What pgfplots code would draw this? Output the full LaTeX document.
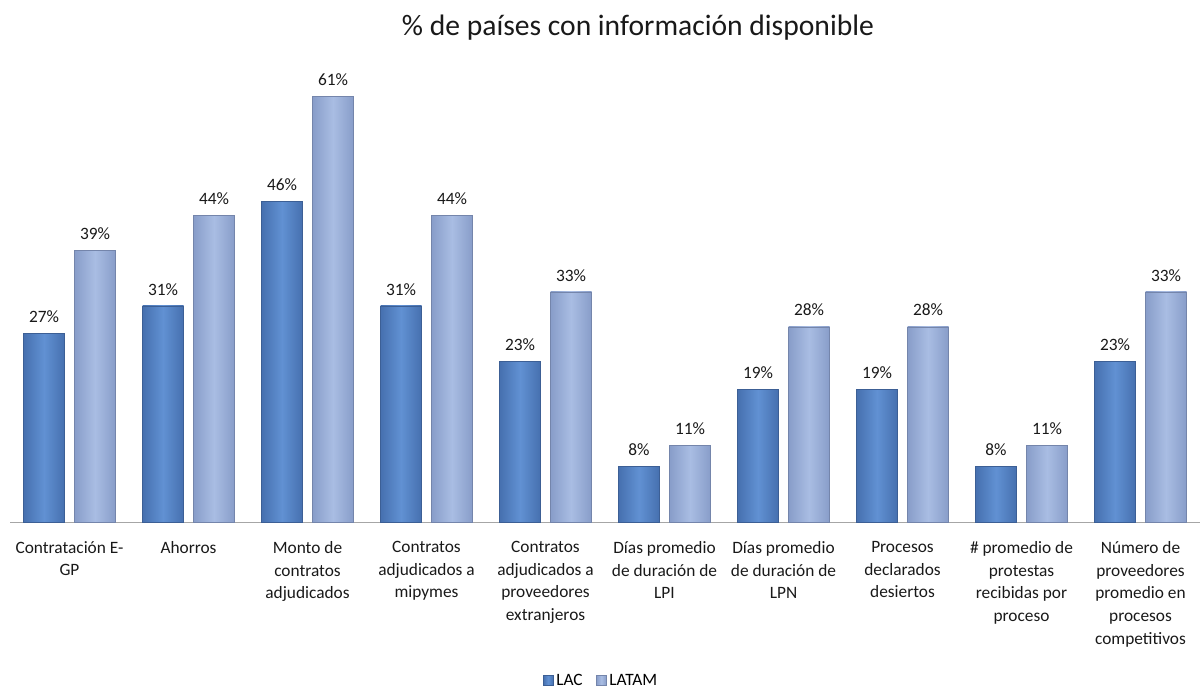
\documentclass[border=0pt]{standalone}
\usepackage{pgfplots}
\pgfplotsset{compat=1.18}
\usepackage{fontspec}
\setmainfont{Carlito}
\definecolor{lacL}{HTML}{6191D3}
\definecolor{lacD}{HTML}{4670AF}
\definecolor{latL}{HTML}{A9BDE3}
\definecolor{latD}{HTML}{889DC9}
\pgfplotsset{
  lac/.style={draw=lacD!85!black, line width=0.5pt, left color=lacD, right color=lacD, middle color=lacL, bar shift=-19.125pt},
  lat/.style={draw=latD!85!black, line width=0.5pt, left color=latD, right color=latD, middle color=latL, bar shift=19.125pt},
}
\begin{document}
\begin{tikzpicture}
\path[use as bounding box] (-7.5pt,-125.25pt) rectangle (894.75pt,391.5pt);
\begin{axis}[
  at={(0,0)}, anchor=south west,
  scale only axis, width=892.5pt, height=339.8pt,
  xmin=-0.5, xmax=9.5, ymin=0, ymax=65,
  ybar, bar width=30.75pt,
  axis y line=none, axis x line*=bottom,
  x axis line style={draw=black!35, -},
  xtick={0,...,9}, major tick length=0pt,
  xticklabels={{Contratación E-\\GP},{Ahorros},{Monto de\\contratos\\adjudicados},{Contratos\\adjudicados a\\mipymes},{Contratos\\adjudicados a\\proveedores\\extranjeros},{Días promedio\\de duración de\\LPI},{Días promedio\\de duración de\\LPN},{Procesos\\declarados\\desiertos},{\# promedio de\\protestas\\recibidas por\\proceso},{Número de\\proveedores\\promedio en\\procesos\\competitivos}},
  xticklabel style={align=center, font=\fontsize{13}{17}\selectfont, anchor=north, yshift=-11pt, text=black!90},
  /pgf/number format/assume math mode=true,
  nodes near coords={\pgfmathprintnumber{\pgfplotspointmeta}\%},
  nodes near coords style={font=\fontsize{13}{14}\selectfont, text=black!90, yshift=4.5pt},
  legend style={at={(0.497,-0.351)}, anchor=center, draw=none, legend columns=2, font=\fontsize{13}{14}\selectfont, /tikz/every even column/.append style={column sep=8pt}},
  legend image code/.code={\draw[#1] (0pt,-3.5pt) rectangle (7.5pt,4pt);},
]
\addplot[lac] coordinates {(0,27)};
\addplot[lac, forget plot] coordinates {(1,31)};
\addplot[lac, forget plot] coordinates {(2,46)};
\addplot[lac, forget plot] coordinates {(3,31)};
\addplot[lac, forget plot] coordinates {(4,23)};
\addplot[lac, forget plot] coordinates {(5,8)};
\addplot[lac, forget plot] coordinates {(6,19)};
\addplot[lac, forget plot] coordinates {(7,19)};
\addplot[lac, forget plot] coordinates {(8,8)};
\addplot[lac, forget plot] coordinates {(9,23)};
\addlegendentry{LAC}
\addplot[lat] coordinates {(0,39)};
\addlegendentry{LATAM}
\addplot[lat, forget plot] coordinates {(1,44)};
\addplot[lat, forget plot] coordinates {(2,61)};
\addplot[lat, forget plot] coordinates {(3,44)};
\addplot[lat, forget plot] coordinates {(4,33)};
\addplot[lat, forget plot] coordinates {(5,11)};
\addplot[lat, forget plot] coordinates {(6,28)};
\addplot[lat, forget plot] coordinates {(7,28)};
\addplot[lat, forget plot] coordinates {(8,11)};
\addplot[lat, forget plot] coordinates {(9,33)};
\end{axis}
\node[font=\fontsize{22.2}{24}\selectfont, text=black!90] at (471pt,371pt) {\% de países con información disponible};
\end{tikzpicture}
\end{document}
